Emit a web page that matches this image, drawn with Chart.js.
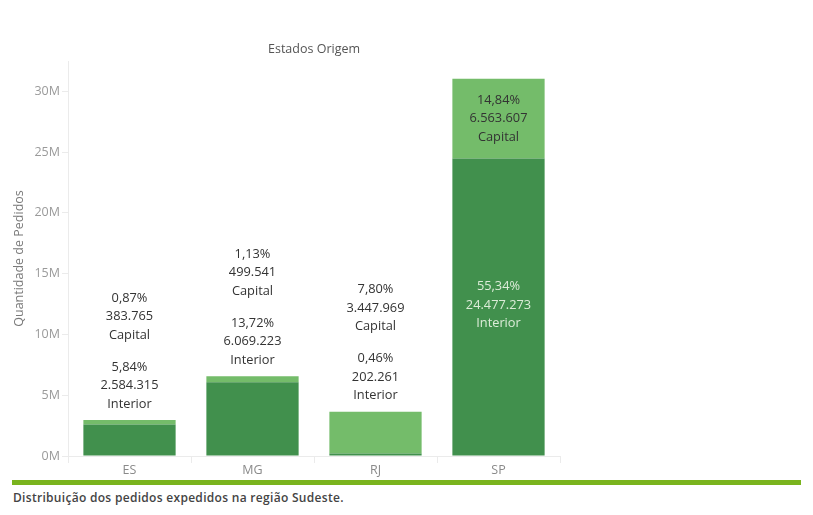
<!DOCTYPE html>
<html>
<head>
<meta charset="utf-8">
<script src="https://cdn.jsdelivr.net/npm/chart.js@4"></script>
<style>
  body { margin: 0; background: #fff; font-family: "Open Sans", sans-serif; }
  #wrap { position: relative; width: 813px; height: 478px; }
  #rule { position: absolute; left: 12px; top: 480px; width: 789px; height: 5px; background: #7ab41e; }
  #caption { position: absolute; left: 13px; top: 489px; font-size: 12px; font-weight: 600; color: #444; letter-spacing: 0.3px; }
</style>
</head>
<body>
<div id="wrap"><canvas id="orders-chart"></canvas></div>
<div id="rule"></div>
<div id="caption">Distribuição dos pedidos expedidos na região Sudeste.</div>
<script>
const states = ["ES", "MG", "RJ", "SP"];
const interiorOrders = [2584315, 6069223, 202261, 24477273];
const capitalOrders = [383765, 499541, 3447969, 6563607];
const yTicks = [0, 5000000, 10000000, 15000000, 20000000, 25000000, 30000000];

const darkGreen = "#41904d";
const lightGreen = "#74bc6a";

const grandTotal = interiorOrders.concat(capitalOrders).reduce((a, b) => a + b, 0);

function formatThousands(n) {
  return String(n).replace(/\B(?=(\d{3})+(?!\d))/g, ".");
}
function formatPct(n) {
  return (n / grandTotal * 100).toFixed(2).replace(".", ",") + "%";
}

/* ==================================== */
/*            Bar labels                */
/* ==================================== */
const barLabels = {
  id: "barLabels",
  afterDatasetsDraw(chart) {
    const ctx = chart.ctx;
    const interiorMeta = chart.getDatasetMeta(0);
    const capitalMeta = chart.getDatasetMeta(1);
    const lineGap = 18.5;
    ctx.save();
    ctx.font = "12.8px 'Open Sans'";
    ctx.textAlign = "center";
    ctx.textBaseline = "middle";
    states.forEach((s, i) => {
      const inBar = interiorMeta.data[i];
      const capBar = capitalMeta.data[i];
      const inLines = [formatPct(interiorOrders[i]), formatThousands(interiorOrders[i]), "Interior"];
      const capLines = [formatPct(capitalOrders[i]), formatThousands(capitalOrders[i]), "Capital"];
      const inH = inBar.base - inBar.y;
      const capH = capBar.base - capBar.y;
      if (inH > 60 && capH > 60) {
        const inMid = (inBar.y + inBar.base) / 2 - 2;
        const capMid = (capBar.y + capBar.base) / 2;
        ctx.fillStyle = "#dcecd8";
        inLines.forEach((t, k) => ctx.fillText(t, inBar.x, inMid + (k - 1) * lineGap));
        ctx.fillStyle = "#333";
        capLines.forEach((t, k) => ctx.fillText(t, capBar.x, capMid + (k - 1) * lineGap));
      } else {
        const top = Math.min(inBar.y, capBar.y);
        const inLast = top - 16;
        const capLast = inLast - 2 * lineGap - 32;
        ctx.fillStyle = "#333";
        inLines.forEach((t, k) => ctx.fillText(t, inBar.x, inLast - (2 - k) * lineGap));
        capLines.forEach((t, k) => ctx.fillText(t, capBar.x, capLast - (2 - k) * lineGap));
      }
    });
    ctx.restore();
  }
};

/* ==================================== */
/*               Chart                  */
/* ==================================== */
const ordersChart = new Chart(document.querySelector("#orders-chart"), {
  type: "bar",
  data: {
    labels: states,
    datasets: [
      { label: "Interior", data: interiorOrders, backgroundColor: darkGreen },
      { label: "Capital", data: capitalOrders, backgroundColor: lightGreen },
    ],
  },
  options: {
    responsive: true,
    maintainAspectRatio: false,
    animation: false,
    barPercentage: 0.75,
    categoryPercentage: 1,
    layout: { padding: { left: 0, right: 253, top: 0, bottom: 0 } },
    scales: {
      x: {
        stacked: true,
        grid: { offset: true, drawOnChartArea: false, tickLength: 7, color: "#ebebeb" },
        border: { color: "#ebebeb" },
        ticks: { color: "#8a8a8a", font: { family: "Open Sans", size: 12.5 }, padding: 0 },
        afterFit: (axis) => { axis.height = 22; },
      },
      y: {
        stacked: true,
        min: 0,
        max: 32500000,
        grid: { drawOnChartArea: false, tickLength: 6, color: "#ebebeb" },
        border: { color: "#ebebeb" },
        ticks: {
          stepSize: 5000000,
          color: "#9a9a9a",
          font: { family: "Open Sans", size: 12.5 },
          padding: 2,
          callback: (v) => (v / 1000000) + "M",
        },
        afterBuildTicks: (axis) => {
          axis.ticks = yTicks.map((v) => ({ value: v }));
        },
        title: {
          display: true,
          text: "Quantidade de Pedidos",
          color: "#7a7a7a",
          font: { family: "Open Sans", size: 12.5 },
          padding: { top: 12, bottom: 0 },
        },
        afterFit: (axis) => { axis.width = 68; },
      },
    },
    plugins: {
      legend: { display: false },
      tooltip: { enabled: false },
      title: {
        display: true,
        text: "Estados Origem",
        fullSize: false,
        color: "#555",
        font: { family: "Open Sans", size: 12.5, weight: "normal" },
        padding: { top: 42, bottom: 4 },
      },
    },
  },
  plugins: [barLabels],
});
</script>
</body>
</html>
